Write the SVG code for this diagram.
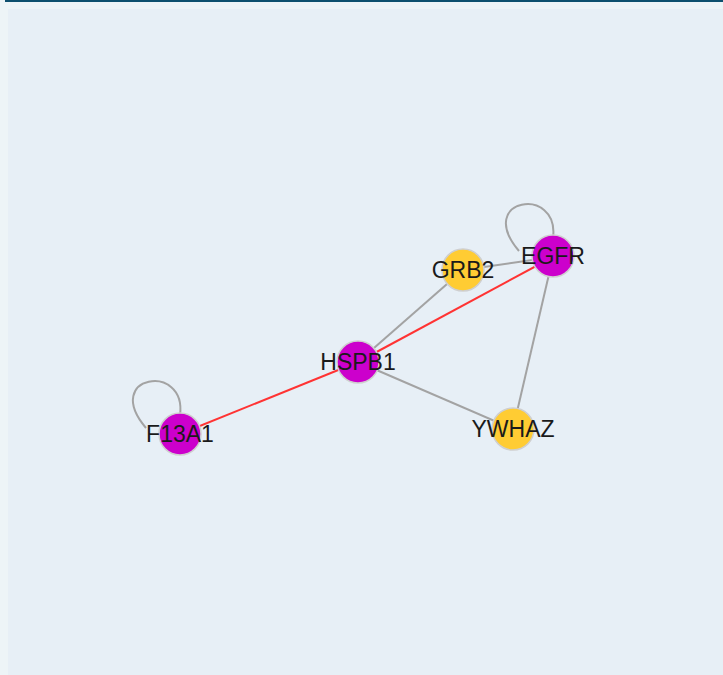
<svg xmlns="http://www.w3.org/2000/svg" width="723" height="675" viewBox="0 0 723 675">
<style>
.edge{fill:none;stroke:#a3a3a3;stroke-width:2}
.red{fill:none;stroke:#ff3333;stroke-width:2}
.node circle{stroke:#cfcfcf;stroke-width:1.5}
.mag{fill:#cc00cc}
.yel{fill:#ffcc33}
.lbl{font-family:"Liberation Sans",Arial,sans-serif;font-size:23px;fill:#1a1a1a;text-anchor:middle}
</style>
<rect x="0" y="0" width="723" height="675" fill="#edf4f7"/>
<rect x="8" y="9" width="715" height="666" fill="#e7eff6"/>
<rect x="5" y="0" width="718" height="2" fill="#0d4f6e"/>
<g id="connectors">
<line class="edge" x1="463" y1="270" x2="358" y2="362"/>
<line class="edge" x1="463" y1="270" x2="553" y2="257"/>
<line class="edge" x1="358" y1="362" x2="513" y2="429"/>
<line class="edge" x1="553" y1="257" x2="513" y2="429"/>
<line class="red" x1="553" y1="257" x2="358" y2="362"/>
<line class="red" x1="358" y1="362" x2="180" y2="434"/>
<path class="edge" d="M553 238 C 560 185, 474 198, 519 251"/>
<path class="edge" d="M180 415 C 187 362, 101 375, 146 428"/>
</g>
<g id="GRB2" class="node"><circle class="yel" cx="463" cy="270" r="21"/><text class="lbl" x="463" y="278">GRB2</text></g>
<g id="EGFR" class="node"><circle class="mag" cx="553" cy="256" r="21"/><text class="lbl" x="553" y="264">EGFR</text></g>
<g id="HSPB1" class="node"><circle class="mag" cx="358" cy="362" r="21"/><text class="lbl" x="358" y="370">HSPB1</text></g>
<g id="F13A1" class="node"><circle class="mag" cx="180" cy="434" r="21"/><text class="lbl" x="180" y="442">F13A1</text></g>
<g id="YWHAZ" class="node"><circle class="yel" cx="513" cy="429" r="21"/><text class="lbl" x="513" y="437">YWHAZ</text></g>
</svg>
